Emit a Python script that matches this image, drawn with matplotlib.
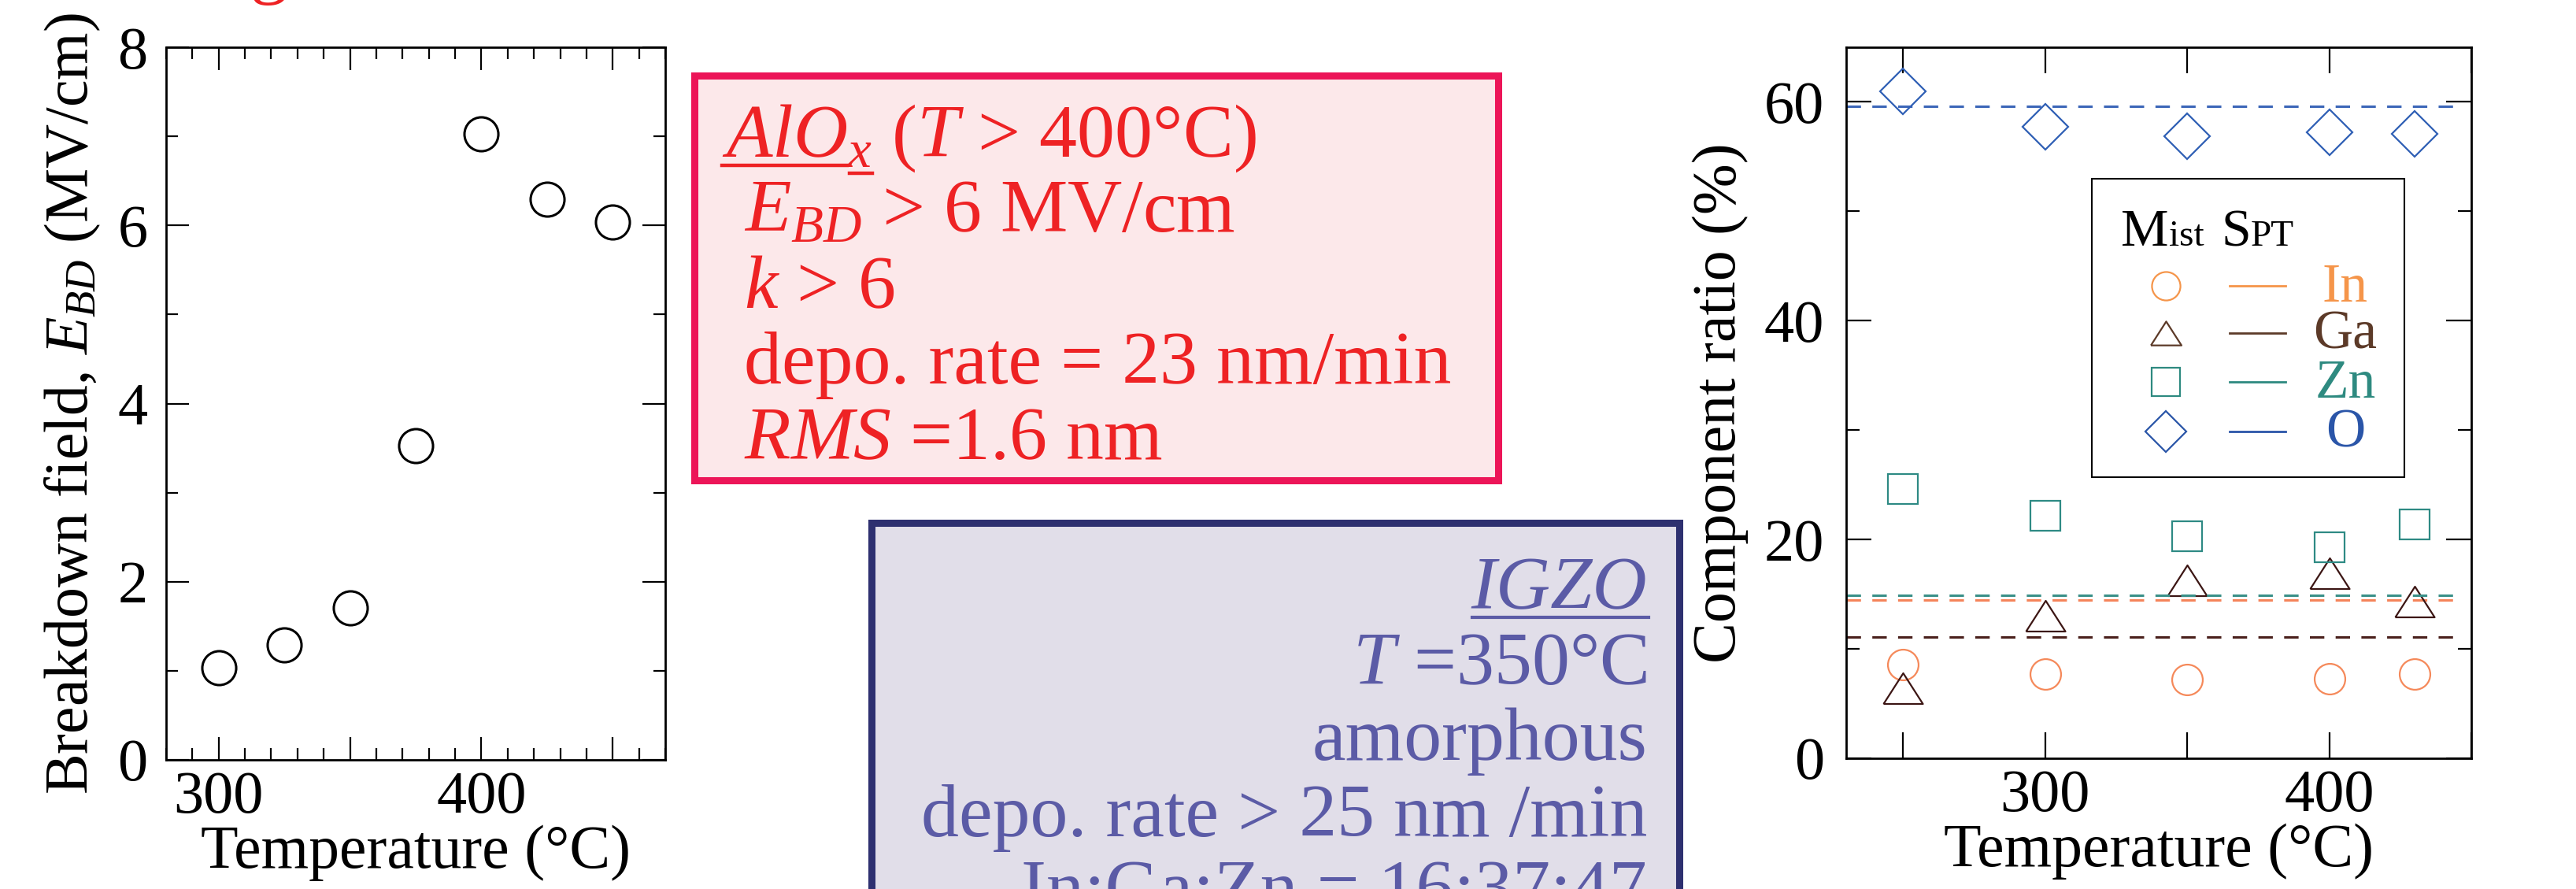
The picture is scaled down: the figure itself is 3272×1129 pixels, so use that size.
import matplotlib

matplotlib.use("Agg")
import matplotlib.pyplot as plt
from matplotlib.lines import Line2D
from matplotlib.patches import Rectangle
from matplotlib.ticker import FuncFormatter, MultipleLocator

W, H = 3272, 1129
DPI = 100

# breakdown field of AlOx vs deposition temperature
BD_TEMP = [300, 325, 350, 375, 400, 425, 450]
BD_FIELD = [1.03, 1.29, 1.71, 3.53, 7.03, 6.29, 6.04]

# IGZO component ratio (mist CVD) vs temperature
COMP_TEMP = [250, 300, 350, 400, 430]
COMP_IN = [8.6, 7.7, 7.2, 7.3, 7.7]
COMP_GA = [6.4, 13.0, 16.3, 16.9, 14.3]
COMP_ZN = [24.6, 22.2, 20.3, 19.3, 21.4]
COMP_O = [61.0, 57.7, 56.9, 57.2, 57.1]

# sputtered film reference levels
ELEMENTS = ["In", "Ga", "Zn", "O"]
SPT_LEVELS = [14.5, 11.1, 14.9, 59.6]

MARK_COLORS = ["#f5895a", "#3c1614", "#2e8a84", "#2f5fb5"]
DASH_COLORS = ["#f5845a", "#4a201c", "#3a9088", "#3c66b8"]
KEY_COLORS = ["#f5954a", "#5c3a28", "#2e8a80", "#2a55a8"]

RED = "#ee2224"
RED_EDGE = "#ec1558"
RED_FILL = "#fce8ea"
BLUE_TEXT = "#5b5ba6"
BLUE_EDGE = "#2e3070"
BLUE_FILL = "#e1dee9"

# triangle a little wider than tall
TRIANGLE = [(-1.0, -0.78), (1.0, -0.78), (0.0, 0.78), (-1.0, -0.78)]
MARKERS = ["o", TRIANGLE, "s", "D"]

plt.rcParams.update({
    "font.family": ["Liberation Serif", "DejaVu Serif"],
    "mathtext.fontset": "custom",
    "mathtext.rm": "Liberation Serif",
    "mathtext.it": "Liberation Serif:italic",
    "mathtext.bf": "Liberation Serif:bold",
    "axes.linewidth": 2.0,
})

fig = plt.figure(figsize=(W / DPI, H / DPI), dpi=DPI)
fig.patch.set_facecolor("white")
renderer = fig.canvas.get_renderer()


def fx(px):
    return px / W


def fy(py):
    return 1 - py / H


def text_width(s, **kw):
    t = fig.text(0, 0, s, **kw)
    w = t.get_window_extent(renderer).width
    t.remove()
    return w


def hundreds(v, _pos):
    return f"{v:.0f}" if abs(v % 100) < 1e-6 else ""


def style_ticks(ax, major_len, minor_len, pad_x, pad_y):
    ax.tick_params(which="both", direction="in", top=True, right=True, width=1.6, labelsize=55)
    ax.tick_params(which="major", length=major_len)
    ax.tick_params(which="minor", length=minor_len)
    ax.tick_params(axis="x", pad=pad_x)
    ax.tick_params(axis="y", pad=pad_y)


# left panel: breakdown field
ax1 = fig.add_axes([fx(211), fy(965), fx(845 - 211), (965 - 60) / H])
ax1.plot(BD_TEMP, BD_FIELD, linestyle="none", marker="o", ms=31, mfc="none",
         mec="black", mew=2.2, clip_on=False)
ax1.set_xlim(280, 470)
ax1.set_ylim(0, 8)
ax1.xaxis.set_major_locator(MultipleLocator(50))
ax1.xaxis.set_minor_locator(MultipleLocator(10))
ax1.xaxis.set_major_formatter(FuncFormatter(hundreds))
ax1.yaxis.set_major_locator(MultipleLocator(2))
ax1.yaxis.set_minor_locator(MultipleLocator(1))
style_ticks(ax1, 21, 10.5, 10, 17)
ax1.set_xlabel("Temperature (°C)", fontsize=56, labelpad=0)
ax1.set_ylabel(r"Breakdown field, $E_{BD}$ (MV/cm)", fontsize=56, labelpad=14)

# right panel: component ratio
ax2 = fig.add_axes([fx(2345), fy(963), fx(3139 - 2345), (963 - 60) / H])
series = [COMP_IN, COMP_GA, COMP_ZN, COMP_O]
sizes = [28, 36, 28, 30]
for vals, level, mk, ms, mc, dc in zip(series, SPT_LEVELS, MARKERS, sizes, MARK_COLORS, DASH_COLORS):
    ax2.axhline(level, xmin=0.0, xmax=0.975, color=dc, lw=2.2, dashes=(6, 4.7))
    ax2.plot(COMP_TEMP, vals, linestyle="none", marker=mk, ms=ms, mfc="none",
             mec=mc, mew=1.6, clip_on=False)
ax2.set_xlim(230, 450)
ax2.set_ylim(0, 65)
ax2.xaxis.set_major_locator(MultipleLocator(50))
ax2.xaxis.set_major_formatter(FuncFormatter(hundreds))
ax2.yaxis.set_major_locator(MultipleLocator(20))
ax2.yaxis.set_minor_locator(MultipleLocator(10))
style_ticks(ax2, 23, 12, 10, 20)
ax2.tick_params(axis="x", which="major", length=24)
ax2.set_xlabel("Temperature (°C)", fontsize=56, labelpad=0)
ax2.set_ylabel("Component ratio (%)", fontsize=56, labelpad=14)

# key box inside the right panel
fig.add_artist(Rectangle((fx(2657), fy(606)), fx(3054 - 2657), (606 - 227) / H,
                         transform=fig.transFigure, fc="white", ec="black", lw=1.5, zorder=3))
x = 2694
for piece, size, gap in [("M", 49, 0), ("ist", 34, 22), ("S", 49, 0), ("PT", 34, 0)]:
    fig.text(fx(x), fy(312), piece, fontsize=size, va="baseline", ha="left", zorder=4)
    x += text_width(piece, fontsize=size) + gap

key_rows = [363, 423, 485, 548]
key_sizes = [26, 28, 26.5, 26]
for name, row, mk, ms, kc in zip(ELEMENTS, key_rows, MARKERS, key_sizes, KEY_COLORS):
    fig.add_artist(Line2D([fx(2751)], [fy(row)], transform=fig.transFigure, linestyle="none",
                          marker=mk, ms=ms, mfc="none", mec=kc, mew=1.6, zorder=4))
    fig.add_artist(Line2D([fx(2832), fx(2903)], [fy(row), fy(row)], transform=fig.transFigure,
                          color=kc, lw=2.0, zorder=4))
    fig.text(fx(2979), fy(row + 20), name, color=kc, fontsize=50, ha="center", va="baseline", zorder=4)

# AlOx summary box
fig.add_artist(Rectangle((fx(882), fy(610)), fx(1903 - 882), (610 - 96) / H,
                         transform=fig.transFigure, fc=RED_FILL, ec=RED_EDGE, lw=6.5))
alox_lines = [
    (917, 199, r"$\mathit{AlO}_{\mathit{x}}$ ($\mathit{T}$ > 400°C)"),
    (945, 295, r"$\mathit{E}_{\mathit{BD}}$ > 6 MV/cm"),
    (945, 391, r"$\mathit{k}$ > 6"),
    (945, 487, "depo. rate = 23 nm/min"),
    (945, 583, r"$\mathit{RMS}$ =1.6 nm"),
]
for px, py, s in alox_lines:
    fig.text(fx(px), fy(py), s, color=RED, fontsize=69, ha="left", va="baseline")

w_alo = text_width(r"$\mathit{AlO}$", fontsize=69)
w_alox = text_width(r"$\mathit{AlO}_{\mathit{x}}$", fontsize=69)
fig.add_artist(Line2D([fx(917), fx(917 + w_alo)], [fy(210), fy(210)],
                      transform=fig.transFigure, color=RED, lw=3.2))
fig.add_artist(Line2D([fx(917 + w_alo + 3), fx(917 + w_alox)], [fy(220), fy(220)],
                      transform=fig.transFigure, color=RED, lw=3.2))

# tail of the red heading above the frame
fig.text(fx(318), fy(-13), "g", color=RED, fontsize=69, ha="left", va="baseline")

# IGZO summary box
fig.add_artist(Rectangle((fx(1107), -0.1), fx(2133 - 1107), fy(664) + 0.1,
                         transform=fig.transFigure, fc=BLUE_FILL, ec=BLUE_EDGE, lw=6.5))
igzo_lines = [
    (773, "IGZO", "italic"),
    (869, r"$\mathit{T}$ =350°C", "normal"),
    (965, "amorphous", "normal"),
    (1062, "depo. rate > 25 nm /min", "normal"),
    (1158, "In:Ga:Zn = 16:37:47", "normal"),
]
for py, s, st in igzo_lines:
    fig.text(fx(2092), fy(py), s, color=BLUE_TEXT, fontsize=69, style=st, ha="right", va="baseline")

w_igzo = text_width("IGZO", fontsize=69, style="italic")
fig.add_artist(Line2D([fx(2094 - w_igzo), fx(2094)], [fy(784), fy(784)],
                      transform=fig.transFigure, color=BLUE_TEXT, lw=3.0))

fig.savefig("out.png", dpi=DPI)
